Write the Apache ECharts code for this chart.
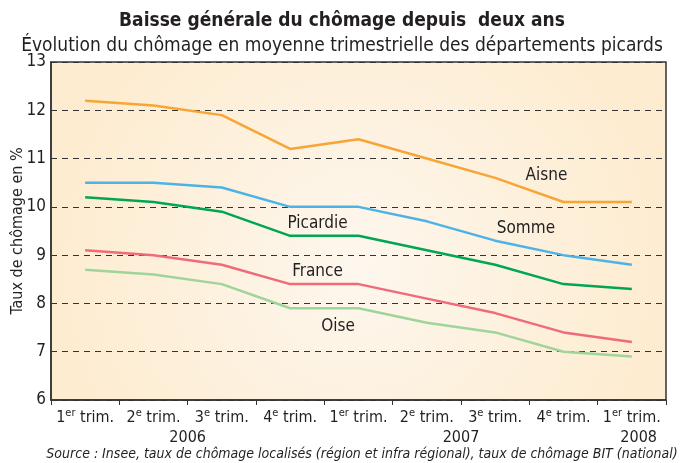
<!DOCTYPE html>
<html><head><meta charset="utf-8">
<script src="https://cdn.jsdelivr.net/npm/echarts@6/dist/echarts.min.js"></script>
<style>html,body{margin:0;padding:0;background:#fff}#c{width:684px;height:463px}</style>
</head><body><div id="c"></div>
<script>
const categories = ['1er trim.', '2e trim.', '3e trim.', '4e trim.', '1er trim.', '2e trim.', '3e trim.', '4e trim.', '1er trim.'];
const years = ['2006', '2007', '2008'];
const aisne    = [12.2, 12.1, 11.9, 11.2, 11.4, 11.0, 10.6, 10.1, 10.1];
const somme    = [10.5, 10.5, 10.4, 10.0, 10.0, 9.7, 9.3, 9.0, 8.8];
const picardie = [10.2, 10.1, 9.9, 9.4, 9.4, 9.1, 8.8, 8.4, 8.3];
const france   = [9.1, 9.0, 8.8, 8.4, 8.4, 8.1, 7.8, 7.4, 7.2];
const oise     = [8.7, 8.6, 8.4, 7.9, 7.9, 7.6, 7.4, 7.0, 6.9];
const yTicks = [6, 7, 8, 9, 10, 11, 12, 13];

const FONT = '"Liberation Sans Narrow", "DejaVu Sans Condensed", "Roboto", sans-serif';
const TXT = '#231f20';
const chart = echarts.init(document.getElementById('c'));

function catLabel(v) {
  const m = v.match(/^(\d)(er|e) (.*)$/);
  return '{n|' + m[1] + '}{s|' + m[2] + '}{n| ' + m[3] + '}';
}
function line(name, data, color) {
  return { name, type: 'line', data, symbol: 'none', smooth: false,
    lineStyle: { color, width: 2.5 }, itemStyle: { color }, z: 3 };
}

chart.setOption({
  animation: false,
  textStyle: { fontFamily: FONT },
  title: [
    { text: 'Baisse générale du chômage depuis  deux ans', left: 'center', top: 7,
      textStyle: { fontFamily: FONT, fontSize: 19, fontWeight: 'bold', color: TXT } },
    { text: 'Évolution du chômage en moyenne trimestrielle des départements picards', left: 'center', top: 32,
      textStyle: { fontFamily: FONT, fontSize: 19, fontWeight: 'normal', color: TXT } }
  ],
  grid: { left: 51, right: 18, top: 62, bottom: 63, containLabel: false, outerBoundsMode: 'none',
    show: true, borderColor: '#333', borderWidth: 1.5,
    backgroundColor: { type: 'radial', x: 0.5, y: 0.6, r: 0.9,
      colorStops: [{ offset: 0, color: '#fdf7ee' }, { offset: 1, color: '#fdecd0' }] } },
  xAxis: {
    type: 'category', data: categories, boundaryGap: true,
    axisLine: { lineStyle: { color: '#333', width: 1.5 } },
    axisTick: { show: true, length: 5, lineStyle: { color: '#333' } },
    axisLabel: { margin: 8, interval: 0, color: TXT, formatter: catLabel,
      rich: { n: { fontSize: 16, fontFamily: FONT, color: TXT },
              s: { fontSize: 11, fontFamily: FONT, color: TXT, padding: [0, 0, 8, 0] } } }
  },
  yAxis: {
    type: 'value', min: 6, max: 13, interval: 1,
    name: 'Taux de chômage en %', nameLocation: 'middle', nameGap: 25, nameRotate: 90,
    nameMoveOverlap: false,
    nameTextStyle: { fontFamily: FONT, fontSize: 16, color: TXT },
    axisLine: { show: true, lineStyle: { color: '#333', width: 1.5 } },
    axisTick: { show: false },
    axisLabel: { fontSize: 17, color: TXT, margin: 5,
      formatter: v => yTicks.includes(v) ? String(v) : '' },
    splitLine: { show: true, lineStyle: { color: '#333', type: [6, 5], width: 1.2 } }
  },
  series: [
    line('Aisne', aisne, '#f7a535'),
    line('Somme', somme, '#4db3e6'),
    line('Picardie', picardie, '#00a651'),
    line('France', france, '#ef6b7a'),
    line('Oise', oise, '#9fd49b')
  ]
});

// annotations placed via the chart's own scales
const ann = [
  { t: 'Aisne', c: 6.75, v: 10.65 },
  { t: 'Somme', c: 6.45, v: 9.55 },
  { t: 'Picardie', c: 3.4, v: 9.65 },
  { t: 'France', c: 3.4, v: 8.65 },
  { t: 'Oise', c: 3.7, v: 7.52 }
];
const wcat = (684 - 51 - 18) / categories.length;
const graphics = ann.map(a => {
  const p = chart.convertToPixel({ gridIndex: 0 }, [0, a.v]);
  return { type: 'text', x: 51 + wcat * (a.c + 0.5), y: p[1], z: 10,
    style: { text: a.t, font: '17px ' + FONT, fill: TXT, textAlign: 'center', textVerticalAlign: 'middle' } };
});
const yearPos = [2.0, 6.0, 8.6];
years.forEach((y, i) => graphics.push({ type: 'text', x: 51 + wcat * yearPos[i], y: 438, z: 10,
  style: { text: y, font: '16px ' + FONT, fill: TXT, textAlign: 'center', textVerticalAlign: 'middle' } }));
graphics.push({ type: 'text', x: 362, y: 454, z: 10,
  style: { text: 'Source : Insee, taux de chômage localisés (région et infra régional), taux de chômage BIT (national)',
    font: 'italic 14px ' + FONT, fill: TXT, textAlign: 'center', textVerticalAlign: 'middle' } });
chart.setOption({ graphic: graphics });
</script></body></html>
